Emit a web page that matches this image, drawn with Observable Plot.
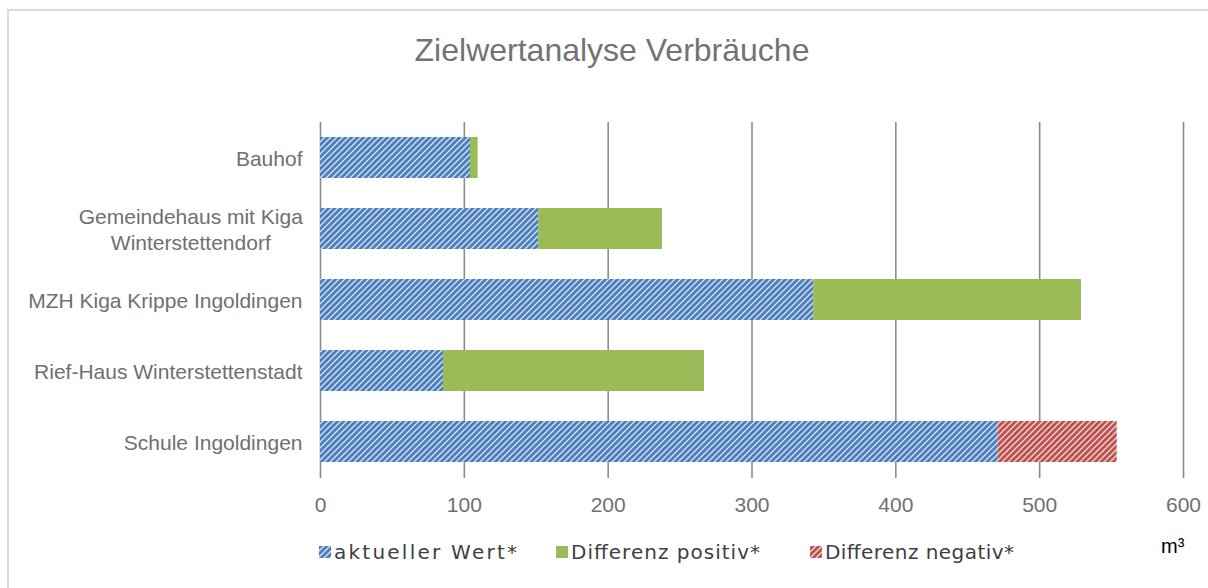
<!DOCTYPE html>
<html><head><meta charset="utf-8">
<script src="https://cdn.jsdelivr.net/npm/d3@7"></script>
<script src="https://cdn.jsdelivr.net/npm/@observablehq/plot@0.6"></script>
<style>
body{margin:0;background:#fff;}
#wrap{position:relative;width:1208px;height:588px;overflow:hidden;font-family:"Liberation Sans",Arial,sans-serif;background:#fff;}
#frame{position:absolute;left:7px;top:9px;width:1400px;height:800px;border-left:2px solid #dadada;border-top:2px solid #dadada;}
#chart{position:absolute;left:0;top:0;}
#overlay{position:absolute;left:0;top:0;pointer-events:none;}
</style>
</head><body>
<div id="wrap"><div id="frame"></div><div id="chart"></div><svg id="overlay" width="1208" height="588"></svg></div>
<script>
const title = "Zielwertanalyse Verbräuche";
const unitLabel = "m³";
const categories = ["Bauhof", "Gemeindehaus mit Kiga\nWinterstettendorf", "MZH Kiga Krippe Ingoldingen", "Rief-Haus Winterstettenstadt", "Schule Ingoldingen"];
const seriesNames = ["aktueller Wert*", "Differenz positiv*", "Differenz negativ*"];
const aktuell = [104.3, 151.6, 342.9, 85.5, 471.2];
const diffPositiv = [5.3, 86.2, 186.2, 181.5, 0];
const diffNegativ = [0, 0, 0, 0, 82.7];
const xTicks = [0, 100, 200, 300, 400, 500, 600];

const rows = [];
categories.forEach((c, i) => {
  rows.push({cat: c, series: seriesNames[0], value: aktuell[i]});
  rows.push({cat: c, series: seriesNames[1], value: diffPositiv[i]});
  rows.push({cat: c, series: seriesNames[2], value: diffNegativ[i]});
});

const textColor = "#707070";
const chart = Plot.plot({
  width: 1208, height: 520,
  marginLeft: 320, marginRight: 25, marginTop: 122, marginBottom: 42,
  style: {background: "transparent", fontFamily: "'Liberation Sans', Arial, sans-serif", fontSize: "21px", color: textColor},
  x: {domain: [0, 600], label: null},
  y: {domain: categories, paddingInner: 0.42, paddingOuter: 0.21, label: null},
  color: {domain: seriesNames, range: ["url(#hatchBlue)", "#9bbb59", "url(#hatchRed)"]},
  marks: [
    Plot.gridX(xTicks, {stroke: "#8c8c8c", strokeOpacity: 1, strokeWidth: 1.6}),
    Plot.barX(rows, Plot.stackX({y: "cat", x: "value", fill: "series"})),
    Plot.axisX(xTicks, {tickSize: 0, tickPadding: 19, fill: textColor, fontSize: 21}),
    Plot.axisY({tickSize: 0, tickPadding: 18, fontSize: 21, lineHeight: 1.2, fill: textColor})
  ]
});
document.getElementById("chart").appendChild(chart);

const defs = d3.select(chart).insert("defs", ":first-child");
function addPattern(id, color) {
  const p = defs.append("pattern").attr("id", id).attr("patternUnits", "userSpaceOnUse")
    .attr("width", 6).attr("height", 6);
  p.append("rect").attr("width", 6).attr("height", 6).attr("fill", color);
  p.append("path").attr("d", "M-1,1 L1,-1 M0,6 L6,0 M5,7 L7,5")
    .attr("stroke", "#ffffff").attr("stroke-opacity", 0.8).attr("stroke-width", 1.3);
}
addPattern("hatchBlue", "#4a7ebf");
addPattern("hatchRed", "#c0504d");

// center wrapped lines of multi-line category labels within their right-aligned block
d3.select(chart).selectAll("text").each(function() {
  const tspans = this.querySelectorAll("tspan");
  if (tspans.length > 1) {
    const bb = this.getBBox();
    const right = bb.x + bb.width;
    let maxW = 0;
    tspans.forEach(t => { maxW = Math.max(maxW, t.getComputedTextLength()); });
    this.setAttribute("text-anchor", "middle");
    tspans.forEach(t => t.setAttribute("x", right - maxW / 2));
  }
});

const ov = d3.select("#overlay");
ov.append("text").attr("x", 612).attr("y", 61).attr("text-anchor", "middle")
  .attr("font-family", "'Liberation Sans', Arial, sans-serif").attr("font-size", 32)
  .attr("fill", "#737373").text(title);

const legendFills = ["url(#hatchBlue)", "#9bbb59", "url(#hatchRed)"];
const legendX = [319, 556, 810];
const legendW = [183, 189, 189];
seriesNames.forEach((s, i) => {
  ov.append("rect").attr("x", legendX[i]).attr("y", 546).attr("width", 12).attr("height", 12).attr("fill", legendFills[i]);
  ov.append("text").attr("x", legendX[i] + 15).attr("y", 559)
    .attr("font-family", "'DejaVu Sans', sans-serif").attr("font-size", 20)
    .attr("fill", "#404040").attr("textLength", legendW[i]).attr("lengthAdjust", "spacing").text(s);
});
ov.append("text").attr("x", 1161).attr("y", 553)
  .attr("font-family", "'Liberation Sans', Arial, sans-serif").attr("font-size", 20)
  .attr("fill", "#000").text(unitLabel);
</script>
</body></html>
